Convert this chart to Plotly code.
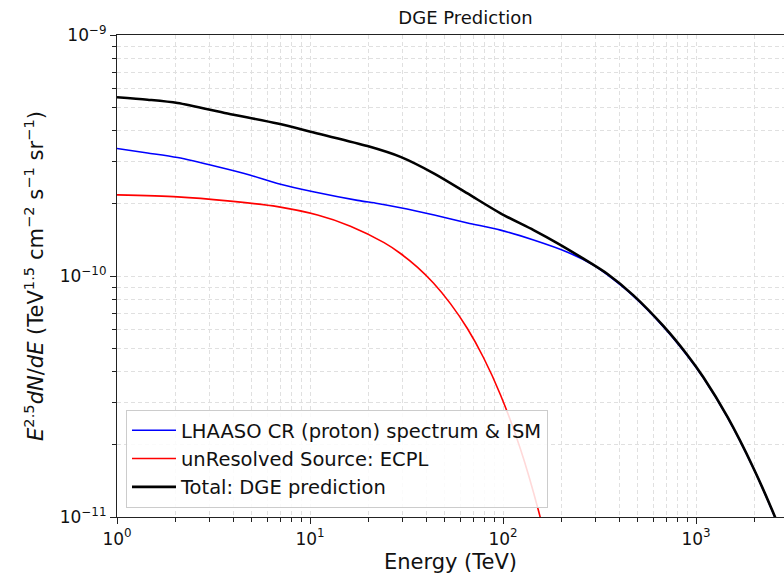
import plotly.graph_objects as go

# ---- data ----
energy_cr = [1.0, 1.44, 2.06, 3.32, 4.92, 6.79, 10.55, 17.63, 22.38, 29.44, 44.0, 65.5, 97.1, 144, 216, 294,
             348, 474, 679, 904, 1094, 1456, 1986, 2582, 3083]
flux_cr = [3.38e-10, 3.24e-10, 3.10e-10, 2.84e-10, 2.62e-10, 2.42e-10, 2.23e-10, 2.06e-10, 2.00e-10,
           1.92e-10, 1.79e-10, 1.66e-10, 1.55e-10, 1.41e-10, 1.255e-10, 1.11e-10,
           1.01e-10, 8.25e-11, 6.15e-11, 4.66e-11, 3.77e-11, 2.59e-11, 1.59e-11, 9.85e-12, 6.85e-12]

energy_src = [1.0, 2.06, 3.74, 6.79, 10.94, 16.2, 24.2, 29.44, 36.1, 43.6, 53.4, 65.5, 79.2, 97.1, 123,
              153, 187]
flux_src = [2.17e-10, 2.13e-10, 2.05e-10, 1.94e-10, 1.79e-10, 1.61e-10, 1.375e-10, 1.24e-10, 1.086e-10,
            9.35e-11, 7.68e-11, 6.04e-11, 4.59e-11, 3.21e-11, 1.92e-11, 1.056e-11, 5.37e-12]

energy_tot = [1.0, 1.44, 2.06, 3.74, 6.79, 10.94, 19.86, 29.44, 44.0, 65.5, 97.1, 144, 194, 261, 348, 474,
              679, 904, 1094, 1456, 1986, 2582, 3083]
flux_tot = [5.52e-10, 5.39e-10, 5.22e-10, 4.72e-10, 4.29e-10, 3.90e-10, 3.46e-10, 3.12e-10, 2.66e-10,
            2.20e-10, 1.82e-10, 1.55e-10, 1.36e-10, 1.18e-10, 1.019e-10, 8.31e-11, 6.19e-11, 4.69e-11,
            3.79e-11, 2.60e-11, 1.594e-11, 9.89e-12, 6.87e-12]

x_tickvals = [1, 10, 100, 1000]
x_ticktext = ["10<sup>0</sup>", "10<sup>1</sup>", "10<sup>2</sup>", "10<sup>3</sup>"]
y_tickvals = [1e-11, 1e-10, 1e-9]
y_ticktext = ["10<sup>\u221211</sup>", "10<sup>\u221210</sup>", "10<sup>\u22129</sup>"]

names = ["LHAASO CR (proton) spectrum &amp; ISM", "unResolved Source: ECPL", "Total: DGE prediction"]

FONT = "DejaVu Sans"

fig = go.Figure()
fig.add_trace(go.Scatter(x=energy_cr, y=flux_cr, mode="lines", name=names[0],
                         line=dict(color="#0000ff", width=1.6, shape="spline", smoothing=0.8)))
fig.add_trace(go.Scatter(x=energy_src, y=flux_src, mode="lines", name=names[1],
                         line=dict(color="#ff0000", width=1.6, shape="spline", smoothing=0.8)))
fig.add_trace(go.Scatter(x=energy_tot, y=flux_tot, mode="lines", name=names[2],
                         line=dict(color="#000000", width=2.6, shape="spline", smoothing=0.8)))

x_minor = [m * 10 ** d for d in range(0, 4) for m in range(2, 10)]
y_minor = [m * 10.0 ** d for d in (-11, -10) for m in range(2, 10)]

grid = "#e0e0e0"
gdash = "4px,3px"

fig.update_xaxes(type="log", range=[0, 667 / 193], tickmode="array", tickvals=x_tickvals, ticktext=x_ticktext,
                 ticks="outside", ticklen=6, tickwidth=1.2, tickcolor="#222",
                 showline=True, linecolor="#222", linewidth=1.2, mirror=True,
                 showgrid=True, gridcolor=grid, griddash=gdash, gridwidth=1,
                 minor=dict(tickmode="array", tickvals=x_minor, ticks="outside", ticklen=3.5,
                            tickcolor="#222", showgrid=True, gridcolor=grid, griddash=gdash, gridwidth=1),
                 tickfont=dict(family=FONT, size=17, color="#111"),
                 title=dict(text="Energy (TeV)", font=dict(family=FONT, size=21, color="#111"), standoff=6),
                 zeroline=False, automargin=False)
fig.update_yaxes(type="log", range=[-11, -9], tickmode="array", tickvals=y_tickvals, ticktext=y_ticktext,
                 ticks="outside", ticklen=6, tickwidth=1.2, tickcolor="#222",
                 showline=True, linecolor="#222", linewidth=1.2, mirror=False,
                 showgrid=True, gridcolor=grid, griddash=gdash, gridwidth=1,
                 minor=dict(tickmode="array", tickvals=y_minor, ticks="outside", ticklen=3.5,
                            tickcolor="#222", showgrid=True, gridcolor=grid, griddash=gdash, gridwidth=1),
                 tickfont=dict(family=FONT, size=17, color="#111"),
                 title=dict(text="<i>E</i><sup>2.5</sup><i>dN</i>/<i>dE</i> (TeV<sup>1.5</sup> cm<sup>\u22122</sup> s<sup>\u22121</sup> sr<sup>\u22121</sup>)",
                            font=dict(family=FONT, size=21, color="#111"), standoff=10),
                 zeroline=False, automargin=False)

fig.update_layout(
    width=784, height=582,
    margin=dict(l=117, r=0, t=35, b=65, autoexpand=False),
    plot_bgcolor="white", paper_bgcolor="white",
    font=dict(family=FONT, color="#111"),
    title=dict(text="DGE Prediction", x=465.5 / 784, xanchor="center", xref="container",
               y=1 - 18 / 582, yanchor="middle", font=dict(family=FONT, size=18, color="#111")),
    legend=dict(x=(126 - 117) / 667, y=(517 - 508) / 482, xanchor="left", yanchor="bottom",
                bgcolor="rgba(255,255,255,0.85)", bordercolor="#cccccc", borderwidth=1,
                font=dict(family=FONT, size=19.5, color="#111"), itemwidth=44),
    showlegend=True,
)

fig.write_html("out.html", config={"displayModeBar": False},
               post_script="document.body.style.margin='0';document.body.style.overflow='hidden';")
